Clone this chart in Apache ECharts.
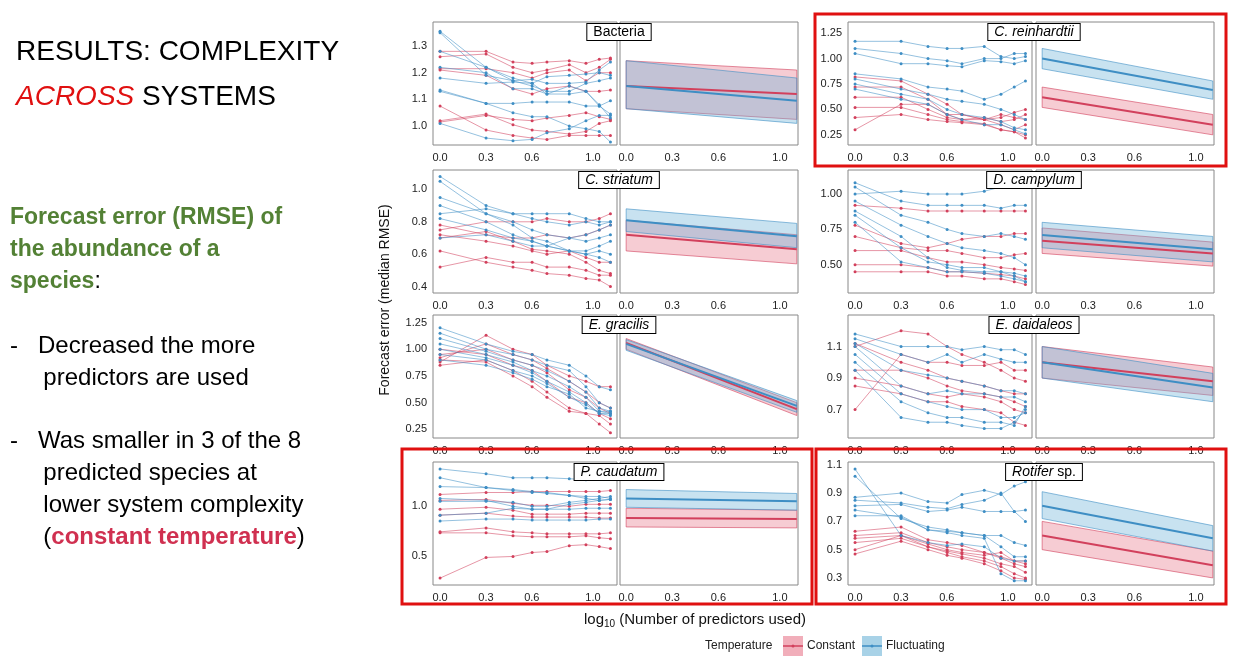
<!DOCTYPE html><html><head><meta charset="utf-8"><script src="https://cdn.jsdelivr.net/npm/echarts@6/dist/echarts.min.js"></script>
<style>body{margin:0;background:#fff}#c{width:1241px;height:658px}</style></head><body><div id="c"></div><script>
var XS=[0,0.301,0.477,0.602,0.699,0.845,0.954,1.041,1.114];
var xTicks=[0,0.3,0.6,1.0];
var species=["Bacteria","C. reinhardtii","C. striatum","D. campylum","E. gracilis","E. daidaleos","P. caudatum","Rotifer sp."];
var yTicks=[[1.0,1.1,1.2,1.3],[0.25,0.5,0.75,1.0,1.25],[0.4,0.6,0.8,1.0],[0.5,0.75,1.0],[0.25,0.5,0.75,1.0,1.25],[0.7,0.9,1.1],[0.5,1.0],[0.3,0.5,0.7,0.9,1.1]];
var yTickLabels=[["1.0","1.1","1.2","1.3"],["0.25","0.50","0.75","1.00","1.25"],["0.4","0.6","0.8","1.0"],["0.50","0.75","1.00"],["0.25","0.50","0.75","1.00","1.25"],["0.7","0.9","1.1"],["0.5","1.0"],["0.3","0.5","0.7","0.9","1.1"]];
var yRange=[[0.929,1.39],[0.15,1.36],[0.36,1.12],[0.30,1.17],[0.17,1.32],[0.52,1.30],[0.2,1.45],[0.25,1.12]];
var redRaw=[
[[1.28,1.28,1.24,1.235,1.24,1.245,1.235,1.25,1.255],[1.26,1.27,1.22,1.20,1.21,1.23,1.20,1.22,1.25],[1.215,1.215,1.20,1.18,1.20,1.21,1.17,1.20,1.20],[1.21,1.19,1.14,1.12,1.14,1.15,1.13,1.13,1.135],[1.075,0.985,0.965,0.955,0.95,0.965,0.965,0.965,0.965],[1.02,1.045,1.005,0.985,0.98,0.97,0.98,1.01,1.02],[1.015,1.04,1.025,1.02,1.03,1.04,1.05,1.035,1.025]],
[[0.82,0.78,0.65,0.55,0.45,0.40,0.42,0.47,0.50],[0.72,0.72,0.60,0.45,0.40,0.42,0.38,0.40,0.45],[0.62,0.62,0.50,0.42,0.40,0.40,0.35,0.30,0.35],[0.52,0.52,0.45,0.40,0.38,0.36,0.30,0.28,0.25],[0.42,0.45,0.40,0.38,0.37,0.35,0.30,0.28,0.22],[0.30,0.55,0.55,0.45,0.45,0.40,0.45,0.42,0.40]],
[[0.78,0.72,0.70,0.70,0.72,0.70,0.72,0.75,0.78],[0.72,0.68,0.65,0.62,0.60,0.62,0.58,0.55,0.55],[0.70,0.74,0.68,0.63,0.62,0.60,0.55,0.50,0.48],[0.62,0.55,0.52,0.50,0.48,0.47,0.45,0.44,0.40],[0.52,0.58,0.55,0.55,0.52,0.52,0.50,0.47,0.47],[0.75,0.80,0.80,0.80,0.82,0.80,0.80,0.82,0.85]],
[[0.92,0.90,0.88,0.88,0.88,0.88,0.88,0.88,0.88],[0.78,0.65,0.62,0.65,0.68,0.70,0.70,0.72,0.72],[0.70,0.62,0.60,0.60,0.58,0.55,0.55,0.57,0.58],[0.60,0.60,0.55,0.52,0.52,0.50,0.48,0.47,0.46],[0.50,0.50,0.48,0.45,0.45,0.44,0.43,0.42,0.40],[0.45,0.45,0.45,0.42,0.42,0.40,0.40,0.38,0.36]],
[[0.88,1.13,1.00,0.95,0.85,0.75,0.70,0.65,0.65],[0.92,1.05,0.95,0.90,0.82,0.70,0.60,0.50,0.45],[0.95,1.00,0.90,0.85,0.78,0.62,0.55,0.45,0.40],[1.00,0.95,0.85,0.80,0.70,0.55,0.50,0.40,0.35],[0.85,0.90,0.80,0.70,0.60,0.45,0.40,0.38,0.30],[0.90,0.88,0.75,0.65,0.55,0.42,0.40,0.30,0.22]],
[[0.70,1.05,1.00,1.00,0.98,0.98,1.00,0.95,0.95],[1.10,1.20,1.18,1.10,1.05,1.00,0.95,0.90,0.88],[0.95,0.95,0.90,0.85,0.82,0.80,0.78,0.75,0.72],[0.90,0.85,0.80,0.78,0.80,0.78,0.75,0.70,0.68],[1.12,1.00,0.95,0.90,0.88,0.85,0.82,0.80,0.80],[0.85,0.80,0.75,0.75,0.72,0.70,0.68,0.62,0.60]],
[[0.27,0.48,0.49,0.53,0.54,0.60,0.61,0.59,0.57],[0.73,0.73,0.70,0.69,0.69,0.69,0.70,0.68,0.67],[0.74,0.78,0.74,0.73,0.72,0.72,0.72,0.72,0.73],[0.91,0.93,0.90,0.89,0.89,0.89,0.89,0.88,0.88],[0.97,0.99,0.96,0.92,0.92,0.92,0.93,0.93,0.93],[1.06,1.07,1.03,1.01,1.01,1.00,1.02,1.02,1.02],[1.12,1.14,1.14,1.15,1.15,1.15,1.15,1.15,1.16]],
[[0.63,0.66,0.57,0.55,0.53,0.48,0.45,0.42,0.40],[0.60,0.62,0.55,0.52,0.50,0.48,0.44,0.40,0.38],[0.58,0.60,0.54,0.50,0.48,0.46,0.48,0.42,0.42],[0.55,0.58,0.52,0.49,0.47,0.44,0.40,0.38,0.34],[0.50,0.60,0.52,0.48,0.45,0.42,0.38,0.33,0.30],[0.47,0.56,0.50,0.46,0.44,0.40,0.35,0.30,0.29]]];
var blueRaw=[
[[1.355,1.22,1.17,1.175,1.16,1.16,1.165,1.21,1.24],[1.35,1.19,1.17,1.15,1.13,1.13,1.16,1.17,1.18],[1.28,1.22,1.18,1.16,1.185,1.19,1.195,1.20,1.19],[1.18,1.16,1.165,1.16,1.12,1.12,1.13,1.075,1.045],[1.135,1.085,1.085,1.09,1.09,1.09,1.075,1.075,1.095],[1.13,1.085,1.05,1.035,1.035,1.00,0.99,0.98,0.94],[1.01,0.955,0.945,0.95,0.975,0.99,1.02,1.04,1.04],[1.22,1.20,1.14,1.14,1.12,1.15,1.13,1.08,1.03]],
[[1.17,1.17,1.12,1.10,1.10,1.12,1.02,1.00,1.02],[1.10,1.05,1.00,0.98,0.95,1.00,1.00,1.05,1.05],[1.05,0.95,0.95,0.93,0.92,0.98,0.97,0.95,0.98],[0.85,0.80,0.72,0.70,0.68,0.60,0.65,0.72,0.78],[0.80,0.70,0.65,0.60,0.58,0.55,0.50,0.45,0.40],[0.75,0.65,0.60,0.50,0.45,0.42,0.38,0.32,0.30],[0.70,0.60,0.55,0.45,0.40,0.35,0.35,0.30,0.26]],
[[1.08,0.90,0.85,0.85,0.85,0.85,0.82,0.80,0.80],[1.05,0.85,0.80,0.75,0.72,0.70,0.68,0.70,0.72],[0.95,0.85,0.78,0.70,0.68,0.62,0.60,0.58,0.55],[0.90,0.80,0.72,0.68,0.65,0.62,0.62,0.65,0.68],[0.82,0.75,0.70,0.68,0.65,0.70,0.72,0.75,0.78],[0.85,0.88,0.85,0.82,0.80,0.78,0.80,0.78,0.80],[0.70,0.72,0.68,0.65,0.65,0.62,0.60,0.62,0.60]],
[[1.08,0.95,0.92,0.92,0.92,0.92,0.90,0.92,0.92],[1.05,0.85,0.80,0.75,0.72,0.70,0.72,0.70,0.68],[0.95,0.78,0.70,0.65,0.62,0.60,0.58,0.55,0.50],[0.88,0.70,0.55,0.48,0.46,0.45,0.45,0.44,0.42],[0.85,0.62,0.52,0.50,0.48,0.48,0.45,0.42,0.38],[1.00,1.02,1.00,1.00,1.00,1.02,1.05,1.05,1.06],[0.80,0.52,0.48,0.45,0.45,0.44,0.42,0.40,0.38]],
[[1.20,1.05,0.98,0.95,0.90,0.85,0.75,0.65,0.62],[1.15,1.00,0.95,0.90,0.85,0.80,0.65,0.50,0.45],[1.10,0.98,0.90,0.85,0.80,0.70,0.60,0.45,0.42],[1.05,0.95,0.88,0.80,0.75,0.65,0.55,0.42,0.40],[1.00,0.92,0.85,0.78,0.70,0.60,0.50,0.40,0.38],[0.95,0.90,0.80,0.75,0.68,0.55,0.48,0.40,0.40],[0.90,0.85,0.78,0.72,0.65,0.58,0.45,0.42,0.42]],
[[1.18,1.10,1.10,1.10,1.08,1.10,1.08,1.08,1.05],[1.15,1.05,1.00,1.05,1.00,1.05,1.02,1.00,1.00],[1.12,0.95,0.92,0.90,0.88,0.85,0.82,0.82,0.80],[1.10,0.85,0.80,0.82,0.80,0.80,0.78,0.78,0.75],[1.05,0.80,0.75,0.72,0.70,0.70,0.65,0.65,0.68],[1.00,0.75,0.68,0.65,0.65,0.62,0.62,0.60,0.72],[0.95,0.65,0.62,0.62,0.60,0.58,0.58,0.62,0.70]],
[[1.38,1.33,1.29,1.29,1.29,1.28,1.27,1.28,1.28],[1.29,1.19,1.16,1.14,1.14,1.11,1.10,1.10,1.08],[1.20,1.19,1.17,1.15,1.13,1.11,1.08,1.06,1.07],[1.08,1.06,1.00,0.97,0.97,1.02,1.04,1.06,1.07],[1.05,1.05,1.04,1.00,1.00,1.04,1.06,1.08,1.10],[0.85,0.87,0.87,0.86,0.86,0.86,0.86,0.87,0.87],[0.91,0.93,0.98,0.97,0.97,0.97,0.98,0.98,0.98]],
[[1.07,0.60,0.55,0.53,0.54,0.52,0.44,0.42,0.42],[1.02,0.72,0.66,0.64,0.62,0.60,0.52,0.45,0.45],[0.87,0.90,0.84,0.83,0.89,0.92,0.89,0.95,0.98],[0.85,0.83,0.80,0.79,0.82,0.85,0.90,0.77,0.70],[0.81,0.82,0.77,0.78,0.80,0.77,0.77,0.77,0.78],[0.78,0.73,0.64,0.63,0.62,0.60,0.60,0.55,0.53],[0.74,0.74,0.64,0.62,0.60,0.58,0.33,0.28,0.28]]];
// fit: [start, end, lowStart, lowEnd, highStart, highEnd]
var fitX=[0,1.11];
var redFit=[[1.15,1.12,1.065,1.025,1.245,1.21],[0.62,0.35,0.52,0.25,0.72,0.45],[0.72,0.63,0.62,0.54,0.81,0.72],[0.67,0.58,0.58,0.49,0.76,0.66],[1.06,0.44,1.0,0.38,1.1,0.50],[1.0,0.88,0.9,0.79,1.1,0.97],[0.88,0.87,0.79,0.78,0.98,0.96],[0.6,0.39,0.5,0.3,0.7,0.49]];
var blueFit=[[1.15,1.095,1.065,1.01,1.245,1.18],[1.0,0.69,0.9,0.6,1.1,0.78],[0.81,0.71,0.74,0.64,0.88,0.79],[0.71,0.61,0.62,0.52,0.80,0.70],[1.05,0.47,0.99,0.41,1.09,0.52],[1.0,0.84,0.9,0.75,1.1,0.93],[1.08,1.05,0.99,0.96,1.17,1.13],[0.81,0.58,0.72,0.49,0.91,0.67]];

var RED='#d2405c',BLUE='#3e8ec4';
var rowTop=[22,170,315,462],H=123;
var colRaw=[433,848],colFit=[620,1036],wRaw=184,wFit=178;
var grid=[],xAxis=[],yAxis=[],series=[],graphic=[];
species.forEach(function(sp,i){
  var r=Math.floor(i/2),c=i%2;
  [0,1].forEach(function(k){
    var gi=grid.length;
    grid.push({left:k?colFit[c]:colRaw[c],top:rowTop[r],width:k?wFit:wRaw,height:H,show:true,borderColor:'#888',borderWidth:1,backgroundColor:'#fff'});
    xAxis.push({type:'value',gridIndex:gi,min:k?-0.04:-0.046,max:k?1.118:1.157,axisLine:{show:false},splitLine:{show:false},
      axisTick:{show:false},
      axisLabel:{customValues:xTicks,formatter:function(v){return v.toFixed(1);},fontSize:11,color:'#222',margin:7,fontFamily:'Liberation Sans'}});
    yAxis.push({type:'value',gridIndex:gi,min:yRange[i][0],max:yRange[i][1],axisLine:{show:false},splitLine:{show:false},
      axisTick:{show:false},
      axisLabel:{show:!k,customValues:yTicks[i],formatter:(function(ii){return function(v){var j=yTicks[ii].indexOf(v);return j>=0?yTickLabels[ii][j]:'';};})(i),fontSize:11,color:'#222',margin:6,fontFamily:'Liberation Sans'}});
    if(!k){
      [[redRaw[i],RED],[blueRaw[i],BLUE]].forEach(function(p){
        p[0].forEach(function(line){
          series.push({type:'line',xAxisIndex:gi,yAxisIndex:gi,data:line.map(function(y,j){return [XS[j],y];}),
            symbol:'circle',symbolSize:3,lineStyle:{width:1,color:p[1],opacity:0.55},itemStyle:{color:p[1]},silent:true,animation:false});
        });
      });
    } else {
      [[redFit[i],'rgba(232,120,140,0.38)',RED],[blueFit[i],'rgba(110,180,215,0.38)',BLUE]].forEach(function(p){
        var f=p[0];
        series.push({type:'custom',xAxisIndex:gi,yAxisIndex:gi,data:[[0,f[2]]],animation:false,silent:true,
          renderItem:(function(f,col,lc){return function(params,api){
            var pts=[api.coord([fitX[0],f[2]]),api.coord([fitX[1],f[3]]),api.coord([fitX[1],f[5]]),api.coord([fitX[0],f[4]])];
            return {type:'polygon',shape:{points:pts},style:{fill:col,stroke:lc,lineWidth:0.6,opacity:1}};};})(f,p[1],p[2])});
        series.push({type:'line',xAxisIndex:gi,yAxisIndex:gi,data:[[fitX[0],f[0]],[fitX[1],f[1]]],symbol:'none',lineStyle:{width:2,color:p[2]},z:5,silent:true,animation:false});
      });
    }
  });
  var cx=(c?1034:619)+ (i===7?10:0);
  var txt = i===0?'Bacteria':(i===7?'{i|Rotifer} sp.':'{i|'+sp+'}');
  graphic.push({type:'text',x:cx,y:rowTop[r]+2,z:100,style:{text:txt,fontSize:14,fontFamily:'Liberation Sans',fill:'#000',align:'center',verticalAlign:'top',
    backgroundColor:'#fff',borderColor:'#000',borderWidth:1,padding:[1,6,1,6],rich:{i:{fontStyle:'italic',fontSize:14,fontFamily:'Liberation Sans'}}}});
});
[[815,14,411,152],[402,449,410,155],[816,449,410,155]].forEach(function(b){
  graphic.push({type:'rect',z:110,shape:{x:b[0],y:b[1],width:b[2],height:b[3]},style:{fill:'none',stroke:'#e01010',lineWidth:3}});
});
var F='Liberation Sans';
graphic.push(
 {type:'text',x:16,y:38,style:{text:'RESULTS: COMPLEXITY',fontSize:28,fontFamily:F,fill:'#000'}},
 {type:'text',x:16,y:83,style:{text:'{r|ACROSS} SYSTEMS',fontSize:28,fontFamily:F,fill:'#000',rich:{r:{fontSize:28,fontStyle:'italic',fill:'#e01010',fontFamily:F}}}},
 {type:'text',x:10,y:202,style:{text:'Forecast error (RMSE) of\nthe abundance of a\n{g|species}{k|:}',fontSize:23,fontWeight:'bold',lineHeight:32,fontFamily:F,fill:'#538135',rich:{g:{fontSize:23,fontWeight:'bold',fill:'#538135',fontFamily:F},k:{fontSize:23,fill:'#000',fontFamily:F}}}},
 {type:'text',x:10,y:330,style:{text:'-   Decreased the more\n     predictors are used',fontSize:24,lineHeight:32,fontFamily:F,fill:'#000'}},
 {type:'text',x:10,y:425,style:{text:'-   Was smaller in 3 of the 8\n     predicted species at\n     lower system complexity\n     ({b|constant temperature})',fontSize:24,lineHeight:32,fontFamily:F,fill:'#000',rich:{b:{fontSize:24,fontWeight:'bold',fill:'#d03050',fontFamily:F}}}},
 {type:'text',x:385,y:300,rotation:Math.PI/2,style:{text:'Forecast error (median RMSE)',fontSize:14,fontFamily:F,fill:'#111',align:'center',verticalAlign:'middle'}},
 {type:'text',x:695,y:620,style:{text:'log{s|10} (Number of predictors used)',fontSize:15,fontFamily:F,fill:'#111',align:'center',verticalAlign:'middle',rich:{s:{fontSize:10,verticalAlign:'bottom',padding:[8,0,0,0],fontFamily:F}}}},
 {type:'text',x:705,y:646,style:{text:'Temperature',fontSize:12,fontFamily:F,fill:'#222',verticalAlign:'middle'}},
 {type:'rect',x:783,y:636,shape:{width:20,height:20},style:{fill:'rgba(232,120,140,0.6)'}},
 {type:'line',shape:{x1:783,y1:646,x2:803,y2:646},style:{stroke:RED,lineWidth:1.5}},
 {type:'circle',shape:{cx:793,cy:646,r:1.5},style:{fill:RED}},
 {type:'text',x:807,y:646,style:{text:'Constant',fontSize:12,fontFamily:F,fill:'#222',verticalAlign:'middle'}},
 {type:'rect',x:862,y:636,shape:{width:20,height:20},style:{fill:'rgba(110,180,215,0.6)'}},
 {type:'line',shape:{x1:862,y1:646,x2:882,y2:646},style:{stroke:BLUE,lineWidth:1.5}},
 {type:'circle',shape:{cx:872,cy:646,r:1.5},style:{fill:BLUE}},
 {type:'text',x:886,y:646,style:{text:'Fluctuating',fontSize:12,fontFamily:F,fill:'#222',verticalAlign:'middle'}}
);
var ch=echarts.init(document.getElementById('c'));
ch.setOption({animation:false,grid:grid,xAxis:xAxis,yAxis:yAxis,series:series,graphic:graphic});
</script></body></html>
